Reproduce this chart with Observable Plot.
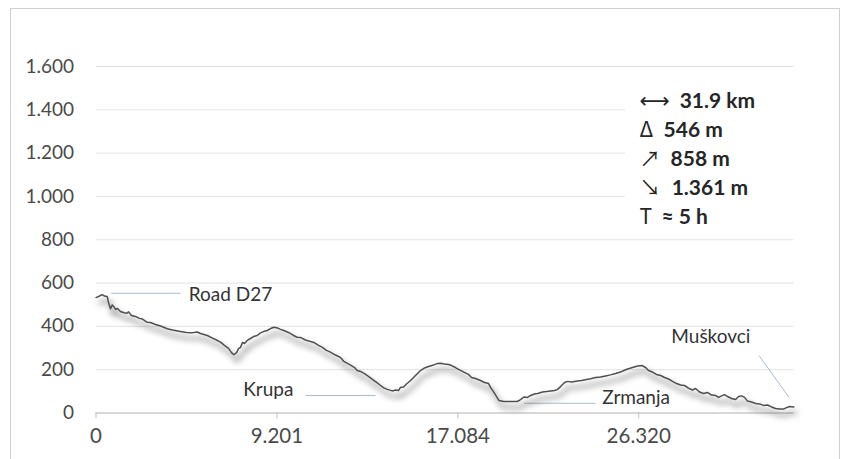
<!DOCTYPE html>
<html>
<head>
<meta charset="utf-8">
<script src="https://cdn.jsdelivr.net/npm/d3@7"></script>
<script src="https://cdn.jsdelivr.net/npm/@observablehq/plot@0.6"></script>
<style>
  html, body { margin: 0; padding: 0; background: #fff; }
  #wrap { position: relative; width: 850px; height: 459px; overflow: hidden; }
  #frame { position: absolute; left: 10px; top: 8px; width: 828px; height: 470px; border: 1px solid #d0d0d0; pointer-events: none; }
</style>
</head>
<body>
<div id="wrap"><div id="chart"></div><div id="frame"></div></div>
<script>
// Profile position along the (category) axis, in tick intervals
const pos = [0,0.014,0.034,0.047,0.062,0.069,0.080,0.090,0.098,0.108,0.119,0.135,0.152,0.169,0.180,0.196,0.218,0.240,0.257,0.283,0.301,0.329,0.357,0.394,0.423,0.467,0.500,0.528,0.559,0.578,0.615,0.644,0.666,0.688,0.710,0.734,0.749,0.762,0.777,0.788,0.799,0.810,0.821,0.836,0.854,0.871,0.891,0.909,0.926,0.946,0.965,0.983,1.003,1.020,1.038,1.064,1.092,1.112,1.130,1.158,1.186,1.204,1.230,1.252,1.274,1.296,1.318,1.341,1.357,1.370,1.390,1.412,1.429,1.444,1.462,1.484,1.506,1.528,1.551,1.573,1.591,1.611,1.637,1.656,1.672,1.683,1.700,1.716,1.739,1.766,1.794,1.816,1.838,1.866,1.888,1.904,1.926,1.949,1.965,1.987,2.009,2.033,2.059,2.076,2.098,2.125,2.148,2.170,2.181,2.197,2.214,2.227,2.254,2.291,2.328,2.347,2.365,2.385,2.402,2.424,2.441,2.468,2.490,2.512,2.535,2.551,2.568,2.590,2.606,2.629,2.660,2.684,2.711,2.734,2.761,2.789,2.817,2.844,2.872,2.899,2.918,2.938,2.966,2.993,3.019,3.038,3.054,3.076,3.098,3.121,3.143,3.165,3.187,3.209,3.231,3.253,3.275,3.297,3.314,3.336,3.358,3.380,3.402,3.425,3.441,3.458,3.474,3.491,3.513,3.535,3.552,3.568,3.585,3.601,3.624,3.646,3.668,3.690,3.712,3.734,3.756,3.778,3.800,3.817,3.834,3.857];
// Elevation (m)
const elev = [533,538,547,540,538,510,481,499,492,478,483,469,464,460,467,450,446,437,434,419,418,409,402,389,383,376,372,370,374,367,358,346,337,327,312,297,279,269,279,297,303,326,321,335,344,353,358,370,376,381,390,396,393,386,381,372,358,350,349,337,330,326,312,303,289,281,270,261,252,238,229,219,210,196,192,182,169,155,141,127,116,109,102,106,104,118,120,134,150,173,196,208,215,222,229,230,226,224,219,210,199,189,178,164,159,150,141,136,118,99,76,58,53,53,53,62,74,72,81,88,90,97,99,102,104,109,122,141,146,143,148,150,155,158,164,166,171,176,182,189,196,203,210,217,219,210,196,189,178,173,164,157,146,136,129,127,115,106,113,97,90,95,83,81,72,79,85,76,67,62,76,79,72,55,51,44,42,35,37,28,21,18,18,25,30,28];

const xTicks = [0, 1, 2, 3];
const xTickLabels = ["0", "9.201", "17.084", "26.320"];
const yTicks = [0, 200, 400, 600, 800, 1000, 1200, 1400, 1600];
const yTickLabels = ["0", "200", "400", "600", "800", "1.000", "1.200", "1.400", "1.600"];

// Place-name annotations
const placeNames = ["Road D27", "Krupa", "Zrmanja", "Muškovci"];
const placeX = [0.513, 0.814, 2.798, 3.180];
const placeY = [547, 107, 68, 350];
const leaderX1 = [0.084, 1.158, 2.365, 3.664];
const leaderY1 = [553, 81, 45, 266];
const leaderX2 = [0.467, 1.545, 2.761, 3.830];
const leaderY2 = [553, 81, 45, 73];

// Summary box
const statSymbols = ["⟷", "Δ", "↗", "↘", "T"];
const statValues = ["31.9 km", "546 m", "858 m", "1.361 m", "≈ 5 h"];
const statY = [1440, 1305, 1170, 1040, 904];
const statSymbolX = 3.004;
const statValueX = [3.226, 3.137, 3.176, 3.182, 3.126];

const profile = pos.map((x, i) => ({x, e: elev[i]}));
const places = placeNames.map((name, i) => ({name, x: placeX[i], y: placeY[i]}));
const leaders = leaderX1.map((x1, i) => ({x1, y1: leaderY1[i], x2: leaderX2[i], y2: leaderY2[i]}));
const stats = statSymbols.map((s, i) => ({s, v: statValues[i], y: statY[i], vx: statValueX[i]}));

const font = "Lato, 'Open Sans', sans-serif";

const chart = Plot.plot({
  width: 850,
  height: 459,
  marginLeft: 95.5,
  marginRight: 56.7,
  marginTop: 66,
  marginBottom: 46.5,
  style: {fontFamily: font, fontSize: "18px", background: "transparent", overflow: "visible"},
  x: {domain: [0, 3.857]},
  y: {domain: [0, 1600]},
  marks: [
    Plot.gridY(yTicks, {stroke: "#e2e2e2", strokeOpacity: 1}),
    Plot.rect([{x1: 2.927, x2: 3.86, y1: 834, y2: 1513}], {x1: "x1", x2: "x2", y1: "y1", y2: "y2", fill: "white"}),
    Plot.axisY({ticks: yTicks, tickFormat: (d) => yTickLabels[yTicks.indexOf(d)], tickSize: 0, tickPadding: 22, fontSize: 19, fill: "#4a4a4a", label: null}),
    Plot.axisX({ticks: xTicks, tickFormat: (d) => xTickLabels[xTicks.indexOf(d)], tickSize: 6, tickPadding: 9, stroke: "#bfbfbf", fontSize: 20.5, fill: "#4a4a4a", label: null}),
    Plot.ruleY([0], {stroke: "#bfbfbf", strokeWidth: 1}),
    Plot.link(leaders, {x1: "x1", y1: "y1", x2: "x2", y2: "y2", stroke: "#a9bccd", strokeWidth: 1}),
    Plot.line(profile, {x: "x", y: "e", stroke: "#4f4f4f", strokeWidth: 1.5, strokeLinejoin: "round"}),
    Plot.text(places, {x: "x", y: "y", text: "name", textAnchor: "start", lineAnchor: "middle", fontSize: 19, fill: "#333333"}),
    Plot.text(stats, {x: () => statSymbolX, y: "y", text: "s", textAnchor: "start", lineAnchor: "middle", fontSize: 21, fill: "#262626", fontFamily: "'Noto Sans CJK SC', 'DejaVu Sans', sans-serif"}),
    Plot.text(stats, {x: "vx", y: "y", text: "v", textAnchor: "start", lineAnchor: "middle", fontSize: 21, fontWeight: "bold", fill: "#262626"})
  ]
});

// soft drop shadow under the profile line
const ns = "http://www.w3.org/2000/svg";
const defs = document.createElementNS(ns, "defs");
defs.innerHTML = '<filter id="shadow" x="-10%" y="-40%" width="120%" height="180%"><feDropShadow dx="3" dy="6" stdDeviation="3" flood-color="#000" flood-opacity="0.8"/></filter>';
chart.insertBefore(defs, chart.firstChild);
const lineG = chart.querySelector('g[aria-label="line"]');
if (lineG) lineG.setAttribute("filter", "url(#shadow)");

document.getElementById("chart").appendChild(chart);
</script>
</body>
</html>
